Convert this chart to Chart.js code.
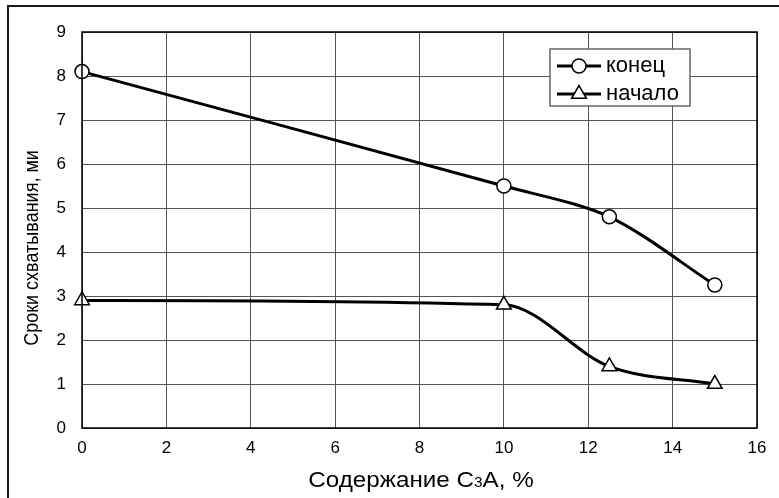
<!DOCTYPE html>
<html>
<head>
<meta charset="utf-8">
<script src="https://cdn.jsdelivr.net/npm/chart.js@4"></script>
<style>
  html, body { margin: 0; padding: 0; background: #fff; }
  #wrap { width: 779px; height: 498px; }
</style>
</head>
<body>
<div id="wrap"><canvas id="setChart" width="779" height="498"></canvas></div>
<script>
// ─── data ───
const c3aContent = [0, 10, 12.5, 15];
const endTime = [8.1, 5.5, 4.8, 3.25];     // конец
const startTime = [2.9, 2.8, 1.4, 1.0];    // начало
const xTicks = [0, 2, 4, 6, 8, 10, 12, 14, 16];
const yTicks = [0, 1, 2, 3, 4, 5, 6, 7, 8, 9];
const seriesNames = ['конец', 'начало'];

const FONT = '"Liberation Sans", Arial, sans-serif';

const toPoints = ys => c3aContent.map((x, i) => ({ x, y: ys[i] }));

// ─── frame, titles and legend ───
const decor = {
    id: 'decor',
    beforeDraw(chart) {
        const c = chart.ctx;
        c.save();
        c.fillStyle = '#fff';
        c.fillRect(0, 0, chart.width, chart.height);
        c.restore();
    },
    afterDraw(chart) {
        const c = chart.ctx;
        const a = chart.chartArea;
        c.save();

        // outer frame
        c.strokeStyle = '#1a1a1a';
        c.lineWidth = 2;
        c.strokeRect(8, 6, 800, 520);

        // plot border
        c.strokeStyle = '#000';
        c.lineWidth = 1.5;
        c.strokeRect(a.left, a.top, a.right - a.left, a.bottom - a.top);

        c.fillStyle = '#000';

        // y title
        c.save();
        c.translate(32, 248);
        c.rotate(-Math.PI / 2);
        c.scale(0.9, 1);
        c.font = '20px ' + FONT;
        c.textAlign = 'center';
        c.textBaseline = 'middle';
        c.fillText('Сроки схватывания, ми', 0, 0);
        c.restore();

        // x title with small "3"
        const parts = [['Содержание C', 22], ['3', 14], ['A, %', 22]];
        let total = 0;
        parts.forEach(p => { c.font = p[1] + 'px ' + FONT; total += c.measureText(p[0]).width; });
        const sx = 1.1;
        c.save();
        c.translate(421 - total * sx / 2, 487);
        c.scale(sx, 1);
        let x = 0;
        c.textBaseline = 'alphabetic';
        c.textAlign = 'left';
        parts.forEach(p => {
            c.font = p[1] + 'px ' + FONT;
            c.fillText(p[0], x, 0);
            x += c.measureText(p[0]).width;
        });
        c.restore();

        // legend
        const box = { x: 550, y: 49, w: 140, h: 57 };
        c.fillStyle = '#fff';
        c.fillRect(box.x, box.y, box.w, box.h);
        c.strokeStyle = '#666';
        c.lineWidth = 1.5;
        c.strokeRect(box.x, box.y, box.w, box.h);
        const rows = [66, 94];
        chart.data.datasets.forEach((ds, i) => {
            const yy = rows[i];
            c.strokeStyle = '#000';
            c.lineWidth = 3;
            c.beginPath();
            c.moveTo(557, yy);
            c.lineTo(601, yy);
            c.stroke();
            c.lineWidth = 1.5;
            c.fillStyle = '#fff';
            c.strokeStyle = '#000';
            Chart.helpers.drawPoint(c, {
                pointStyle: ds.pointStyle,
                radius: ds.pointRadius,
                borderWidth: 1.5
            }, 579, yy);
            c.fillStyle = '#000';
            c.font = '22px ' + FONT;
            c.textBaseline = 'middle';
            c.fillText(ds.label, 606, yy);
        });

        c.restore();
    }
};

const ctx = document.getElementById('setChart').getContext('2d');
new Chart(ctx, {
    type: 'scatter',
    data: {
        datasets: [
            {
                label: seriesNames[0],
                data: toPoints(endTime),
                showLine: true,
                borderColor: '#000',
                borderWidth: 3,
                tension: 0.3,
                pointStyle: 'circle',
                pointRadius: 7,
                pointBackgroundColor: '#fff',
                pointBorderColor: '#000',
                pointBorderWidth: 1.5
            },
            {
                label: seriesNames[1],
                data: toPoints(startTime),
                showLine: true,
                borderColor: '#000',
                borderWidth: 3,
                cubicInterpolationMode: 'monotone',
                pointStyle: 'triangle',
                pointRadius: 8.5,
                pointBackgroundColor: '#fff',
                pointBorderColor: '#000',
                pointBorderWidth: 1.5
            }
        ]
    },
    options: {
        responsive: false,
        animation: false,
        devicePixelRatio: 1,
        clip: false,
        layout: { padding: { top: 32, right: 22, bottom: 0, left: 0 } },
        scales: {
            x: {
                type: 'linear',
                min: 0,
                max: 16,
                afterBuildTicks: s => { s.ticks = xTicks.map(v => ({ value: v })); },
                afterFit: s => { s.height = 70; },
                ticks: { padding: 10, color: '#000', font: { family: FONT, size: 17 } },
                grid: { color: '#555', lineWidth: 1, drawTicks: false },
                border: { display: false }
            },
            y: {
                type: 'linear',
                min: 0,
                max: 9,
                afterBuildTicks: s => { s.ticks = yTicks.map(v => ({ value: v })); },
                afterFit: s => { s.width = 82; },
                ticks: { padding: 16, color: '#000', font: { family: FONT, size: 17 } },
                grid: { color: '#555', lineWidth: 1, drawTicks: false },
                border: { display: false }
            }
        },
        plugins: {
            legend: { display: false },
            tooltip: { enabled: false }
        }
    },
    plugins: [decor]
});
</script>
</body>
</html>
